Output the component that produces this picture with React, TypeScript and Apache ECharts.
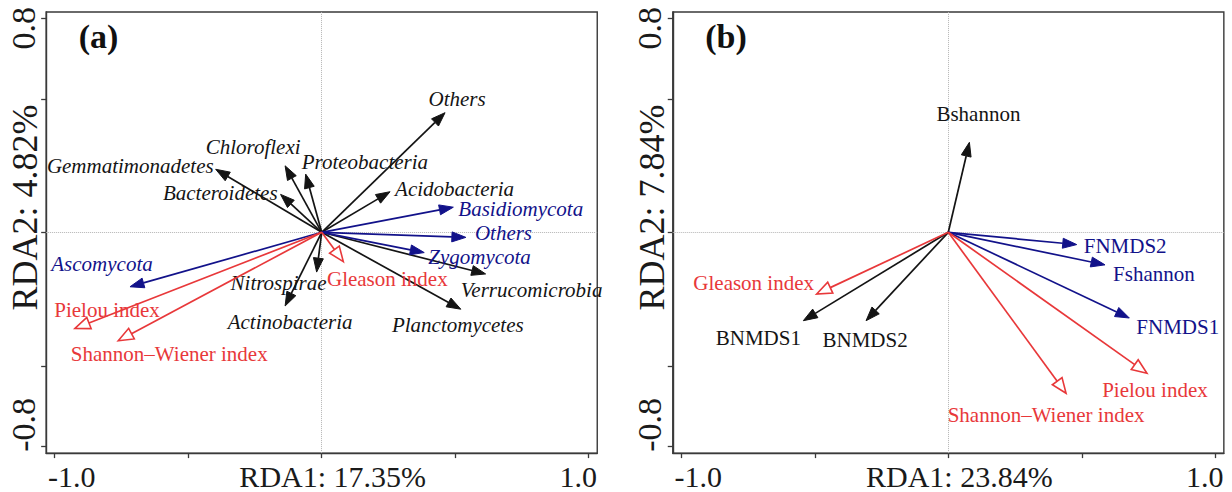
import React, { useEffect, useRef } from "react";
import * as echarts from "echarts";

// ---------- Data (RDA1, RDA2 loadings) ----------
// Panel (a)
const bacteriaNamesA = ["Others", "Acidobacteria", "Proteobacteria", "Chloroflexi", "Gemmatimonadetes", "Bacteroidetes", "Nitrospirae", "Actinobacteria", "Planctomycetes", "Verrucomicrobia"];
const bacteriaRDA1A = [0.462, 0.256, -0.06, -0.137, -0.397, -0.154, -0.019, -0.137, 0.521, 0.614];
const bacteriaRDA2A = [0.448, 0.152, 0.218, 0.249, 0.236, 0.142, -0.149, -0.276, -0.288, -0.156];

const fungiNamesA = ["Basidiomycota", "Others", "Zygomycota", "Ascomycota"];
const fungiRDA1A = [0.493, 0.54, 0.384, -0.718];
const fungiRDA2A = [0.094, -0.019, -0.076, -0.204];

const indexNamesA = ["Gleason index", "Pielou index", "Shannon\u2013Wiener index"];
const indexRDA1A = [0.081, -0.924, -0.762];
const indexRDA2A = [-0.11, -0.36, -0.406];

// Panel (b)
const bacteriaNamesB = ["Bshannon", "BNMDS1", "BNMDS2"];
const bacteriaRDA1B = [0.079, -0.543, -0.308];
const bacteriaRDA2B = [0.337, -0.331, -0.331];

const fungiNamesB = ["FNMDS2", "Fshannon", "FNMDS1"];
const fungiRDA1B = [0.481, 0.587, 0.678];
const fungiRDA2B = [-0.046, -0.122, -0.321];

const indexNamesB = ["Gleason index", "Pielou index", "Shannon\u2013Wiener index"];
const indexRDA1B = [-0.493, 0.744, 0.441];
const indexRDA2B = [-0.231, -0.528, -0.603];

const axisTitlesX = ["RDA1: 17.35%", "RDA1: 23.84%"];
const axisTitlesY = ["RDA2: 4.82%", "RDA2: 7.84%"];
const panelTags = ["(a)", "(b)"];
const xTicks = [-1, -0.5, 0, 0.5, 1];
const xTickLabels = [-1, 1];
const yTicks = [-0.8, -0.5, 0, 0.5, 0.8];
const yTickLabels = [-0.8, 0.8];

// ---------- Layout / style (label offsets in px from arrow tip) ----------
type Lab = [number, number, string];
const labBactA: Lab[] = [
  [12, -14, "center"], [5, -3, "left"], [-4, -12, "left"], [-32, -19, "center"], [-2, -3, "right"],
  [-3, -1, "right"], [10, 11, "right"], [5, 16, "center"], [-3, 16, "center"], [46, 16, "center"],
];
const labFungiA: Lab[] = [[5, 2, "left"], [9, -4, "left"], [4, 4, "left"], [-28, -23, "center"]];
const labIndexA: Lab[] = [[44, 17, "center"], [32, -18, "center"], [51, 13, "center"]];
const labBactB: Lab[] = [[9, -28, "center"], [-45, 17, "center"], [-1, 19, "center"]];
const labFungiB: Lab[] = [[7, 1, "left"], [8, 9, "left"], [7, 9, "left"]];
const labIndexB: Lab[] = [[-63, -11, "center"], [8, 17, "center"], [-20, 22, "center"]];

const BLACK = "#141414";
const NAVY = "#12128a";
const RED = "#e8383a";
const AXIS_COLOR = "#3a3a3a";
const TEXT_COLOR = "#1a1a1a";
const SERIF = "Liberation Serif, Times New Roman, serif";

const UNIT = 267;
const X_RANGE = 1.032;
const Y_MAX = 0.825;
const Y_MIN = -0.827;
const ORIGIN_X = [321.7, 948.3];
const ORIGIN_Y = 232.3;

function arrowSeries(
  grid: number,
  names: string[],
  xs: number[],
  ys: number[],
  labels: Lab[],
  color: string,
  fontStyle: string,
  hollow: boolean,
  withZeroLines: boolean
) {
  const s: any = {
    type: "custom",
    xAxisIndex: grid,
    yAxisIndex: grid,
    clip: false,
    silent: true,
    z: hollow ? 4 : 3,
    data: xs.map((x, i) => [x, ys[i]]),
    encode: { x: 0, y: 1 },
    renderItem: (params: any, api: any) => {
      const i = params.dataIndex;
      const o = api.coord([0, 0]);
      const p = api.coord([api.value(0), api.value(1)]);
      const dx = p[0] - o[0];
      const dy = p[1] - o[1];
      const len = Math.hypot(dx, dy) || 1;
      const ux = dx / len;
      const uy = dy / len;
      const L = hollow ? 15 : 14;
      const W = hollow ? 12 : 10;
      const bx = p[0] - ux * L;
      const by = p[1] - uy * L;
      const px = -uy;
      const py = ux;
      const c1 = [bx + (px * W) / 2, by + (py * W) / 2];
      const c2 = [bx - (px * W) / 2, by - (py * W) / 2];
      const lab = labels[i];
      return {
        type: "group",
        children: [
          {
            type: "line",
            shape: { x1: o[0], y1: o[1], x2: bx, y2: by },
            style: { stroke: color, lineWidth: 1.7 },
          },
          {
            type: "polygon",
            shape: { points: [p, c1, c2] },
            style: hollow
              ? { fill: "#ffffff", stroke: color, lineWidth: 1.6 }
              : { fill: color, stroke: color, lineWidth: 1 },
          },
          {
            type: "text",
            x: p[0] + lab[0],
            y: p[1] + lab[1],
            style: {
              text: names[i],
              fill: color,
              fontFamily: SERIF,
              fontSize: 21,
              fontStyle: fontStyle,
              align: lab[2],
              verticalAlign: "middle",
            },
          },
        ],
      };
    },
  };
  if (withZeroLines) {
    s.markLine = {
      silent: true,
      symbol: ["none", "none"],
      z: 1,
      label: { show: false },
      lineStyle: { color: "#b4b4b4", type: "dotted", width: 1 },
      data: [{ xAxis: 0 }, { yAxis: 0 }],
    };
  }
  return s;
}

export default function App() {
  const ref = useRef<HTMLDivElement>(null);
  useEffect(() => {
    if (!ref.current) return;
    const chart = echarts.init(ref.current, null, { renderer: "svg" });
    const grids = [0, 1].map((g) => ({
      show: true,
      left: ORIGIN_X[g] - X_RANGE * UNIT,
      top: ORIGIN_Y - Y_MAX * UNIT,
      width: 2 * X_RANGE * UNIT,
      height: (Y_MAX - Y_MIN) * UNIT,
      borderColor: AXIS_COLOR,
      borderWidth: 1.4,
      backgroundColor: "transparent",
      containLabel: false,
      outerBoundsMode: "none",
    }));
    const xAxes = [0, 1].map((g) => ({
      type: "value",
      gridIndex: g,
      min: -X_RANGE,
      max: X_RANGE,
      name: axisTitlesX[g],
      nameLocation: "middle",
      nameGap: 8,
      nameMoveOverlap: false,
      nameTextStyle: {
        fontFamily: SERIF,
        fontSize: 30,
        color: TEXT_COLOR,
        verticalAlign: "top",
        padding: [0, 0, 0, 22],
      },
      axisLine: { show: true, onZero: false, lineStyle: { color: AXIS_COLOR, width: 1.4 } },
      axisTick: { show: true, inside: false, length: 5, customValues: xTicks, lineStyle: { color: AXIS_COLOR, width: 1.3 } },
      splitLine: { show: false },
      axisLabel: {
        customValues: xTickLabels,
        margin: 8,
        fontFamily: SERIF,
        fontSize: 30,
        color: TEXT_COLOR,
        formatter: (v: number) => (v < 0 ? `{lo|${v.toFixed(1)}}` : `{hi|${v.toFixed(1)}}`),
        rich: {
          lo: { fontFamily: SERIF, fontSize: 30, color: TEXT_COLOR, padding: [0, 0, 0, 34] },
          hi: { fontFamily: SERIF, fontSize: 30, color: TEXT_COLOR, padding: [0, 21, 0, 0] },
        },
      },
    }));
    const yAxes = [0, 1].map((g) => ({
      type: "value",
      gridIndex: g,
      min: Y_MIN,
      max: Y_MAX,
      name: axisTitlesY[g],
      nameLocation: "middle",
      nameGap: 3,
      nameRotate: 90,
      nameMoveOverlap: false,
      nameTextStyle: { fontFamily: SERIF, fontSize: 36, color: TEXT_COLOR, padding: [0, 0, 0, 50] },
      axisLine: { show: true, onZero: false, lineStyle: { color: AXIS_COLOR, width: 1.4 } },
      axisTick: { show: true, inside: false, length: 5, customValues: yTicks, lineStyle: { color: AXIS_COLOR, width: 1.3 } },
      splitLine: { show: false },
      axisLabel: {
        customValues: yTickLabels,
        rotate: 90,
        margin: 6,
        fontFamily: SERIF,
        fontSize: 34,
        color: TEXT_COLOR,
        formatter: (v: number) => (v < 0 ? `{lo|${v.toFixed(1)}}` : `{hi|${v.toFixed(1)}}`),
        rich: {
          lo: { fontFamily: SERIF, fontSize: 34, color: TEXT_COLOR, padding: [0, 0, 0, 42] },
          hi: { fontFamily: SERIF, fontSize: 34, color: TEXT_COLOR, padding: [0, 19, 0, 0] },
        },
      },
    }));
    const option: any = {
      animation: false,
      backgroundColor: "#ffffff",
      title: [0, 1].map((g) => ({
        text: panelTags[g],
        left: ORIGIN_X[g] - 243,
        top: 19,
        padding: 0,
        textStyle: { fontFamily: SERIF, fontSize: 34, fontWeight: "bold", color: "#111" },
      })),
      grid: grids,
      xAxis: xAxes,
      yAxis: yAxes,
      series: [
        arrowSeries(0, bacteriaNamesA, bacteriaRDA1A, bacteriaRDA2A, labBactA, BLACK, "italic", false, true),
        arrowSeries(0, fungiNamesA, fungiRDA1A, fungiRDA2A, labFungiA, NAVY, "italic", false, false),
        arrowSeries(0, indexNamesA, indexRDA1A, indexRDA2A, labIndexA, RED, "normal", true, false),
        arrowSeries(1, bacteriaNamesB, bacteriaRDA1B, bacteriaRDA2B, labBactB, BLACK, "normal", false, true),
        arrowSeries(1, fungiNamesB, fungiRDA1B, fungiRDA2B, labFungiB, NAVY, "normal", false, false),
        arrowSeries(1, indexNamesB, indexRDA1B, indexRDA2B, labIndexB, RED, "normal", true, false),
      ],
    };
    chart.setOption(option);
    return () => chart.dispose();
  }, []);
  return (
    <div
      ref={ref}
      style={{ position: "absolute", left: 0, top: 0, width: 1232, height: 492, background: "#fff" }}
    />
  );
}
